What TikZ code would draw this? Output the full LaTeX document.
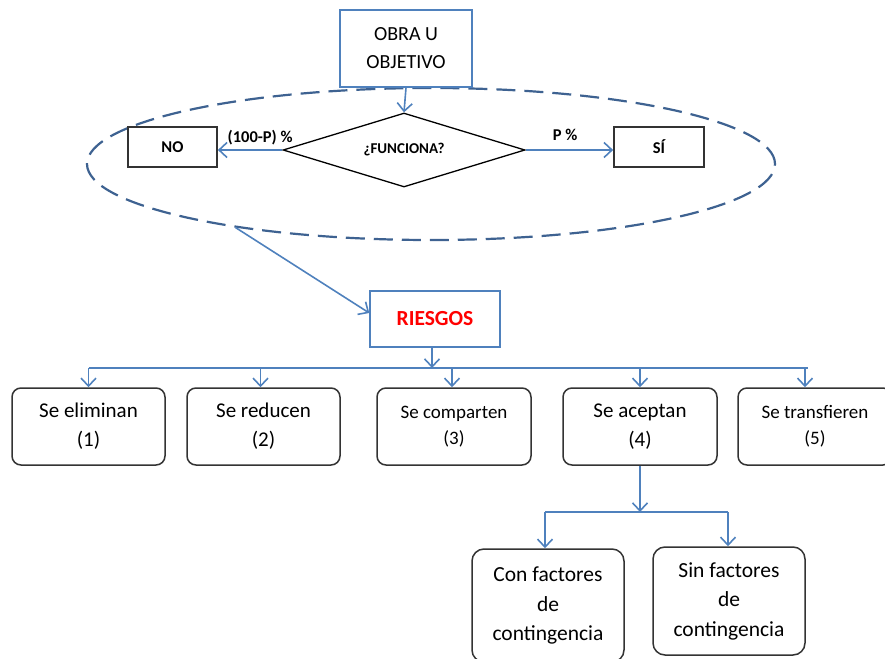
\documentclass[tikz,border=0pt]{standalone}
\usepackage{fontspec}
\setmainfont{Carlito}
\usetikzlibrary{shapes.geometric,arrows.meta,calc}
\definecolor{conn}{HTML}{4F81BD}
\definecolor{ellc}{HTML}{3E6291}
\definecolor{boxline}{HTML}{333333}
\begin{document}
\begin{tikzpicture}[x=1pt,y=-1pt,
  conn/.style={draw=conn, line width=1.6pt},
  arr/.style={conn, -{Straight Barb[length=8pt,width=15pt,line width=1.6pt]}},
  bluebox/.style={draw=conn, line width=1.4pt, inner sep=0pt, align=center},
  blackbox/.style={draw=boxline, line width=1.7pt, inner sep=0pt, align=center, font=\fontsize{16.5}{18}\selectfont\bfseries},
  optbox/.style={draw=boxline, line width=1.5pt, rounded corners=9pt, inner sep=0pt, align=center, minimum height=77pt, font=\fontsize{21}{29}\selectfont},
  optsmall/.style={optbox, font=\fontsize{19}{26}\selectfont},
  subbox/.style={draw=boxline, line width=1.5pt, rounded corners=12pt, inner sep=0pt, align=center, minimum width=152pt, font=\fontsize{21.5}{29.5}\selectfont},
  lbl/.style={font=\fontsize{16.5}{18}\selectfont\bfseries, inner sep=0pt}
]
\useasboundingbox (0,0) rectangle (885,658);

% dashed ellipse
\node[ellipse, draw=ellc, line width=2.2pt, dash pattern=on 19pt off 9pt, minimum width=688pt, minimum height=152pt, inner sep=0pt] (ell) at (431,164) {};

% top box
\node[bluebox, minimum width=132pt, minimum height=77pt, font=\fontsize{20}{28}\selectfont] (obra) at (406,48.5) {OBRA U\\OBJETIVO};

% decision
\node[diamond, draw=black, line width=1.3pt, aspect=3.27, minimum width=242pt, minimum height=74pt, inner sep=0pt, font=\fontsize{15}{16}\selectfont\bfseries] (fun) at (404,150) {¿FUNCIONA?};

\node[blackbox, minimum width=89pt, minimum height=40pt] (no) at (172.5,147) {NO};
\node[blackbox, minimum width=90pt, minimum height=40pt] (si) at (659,147) {SÍ};

\draw[arr] (obra.south) -- (fun.north);
\draw[arr] (fun.west) -- (fun.west -| no.east) node[lbl, pos=0.5, above=4pt, xshift=10pt] (l1) {(100-P) \%};
\draw[arr] (fun.east) -- (fun.east -| si.west) node[lbl, pos=0.45, above=9pt] (l2) {P \%};

% riesgos
\node[bluebox, minimum width=130pt, minimum height=56pt, text=red, font=\fontsize{21.5}{24}\selectfont\bfseries] (ries) at (435,319) {RIESGOS};
\draw[arr] (ell.198.5) -- ([yshift=6pt]ries.west);

% options
\node[optbox, minimum width=153pt] (b1) at (88.5,426.5) {Se eliminan\\(1)};
\node[optbox, minimum width=153pt] (b2) at (263.5,426.5) {Se reducen\\(2)};
\node[optsmall, minimum width=154pt] (b3) at (454,426.5) {Se comparten\\(3)};
\node[optbox, minimum width=154pt] (b4) at (640,426.5) {Se aceptan\\(4)};
\node[optsmall, minimum width=154pt] (b5) at (815,426.5) {Se transfieren\\(5)};

\coordinate (bus) at (432,368);
\draw[arr] (ries.south -| bus) -- (bus);
\draw[conn] (b1.north |- bus) -- ([xshift=-7pt]bus -| b5.north);
\draw[arr] (b1.north |- bus) -- (b1.north);
\draw[arr] ([xshift=-3pt]b2.north |- bus) -- ([xshift=-3pt]b2.north);
\draw[arr] ([xshift=-2pt]b3.north |- bus) -- ([xshift=-2pt]b3.north);
\draw[arr] (b4.north |- bus) -- (b4.north);
\draw[arr] ([xshift=-10pt]b5.north |- bus) -- ([xshift=-10pt]b5.north);

% sub options
\node[subbox, minimum height=113pt] (b6) at (548,605.5) {Con factores\\de\\contingencia};
\node[subbox, minimum height=108pt] (b7) at (729,601) {Sin factores\\de\\contingencia};

\coordinate (bus2) at (640,512);
\draw[arr] (b4.south) -- (bus2);
\draw[conn] ([xshift=-3pt]b6.north |- bus2) -- ([xshift=-1pt]bus2 -| b7.north);
\draw[arr] ([xshift=-3pt]b6.north |- bus2) -- ([xshift=-3pt]b6.north);
\draw[arr] ([xshift=-1pt]b7.north |- bus2) -- ([xshift=-1pt]b7.north);
\end{tikzpicture}
\end{document}
